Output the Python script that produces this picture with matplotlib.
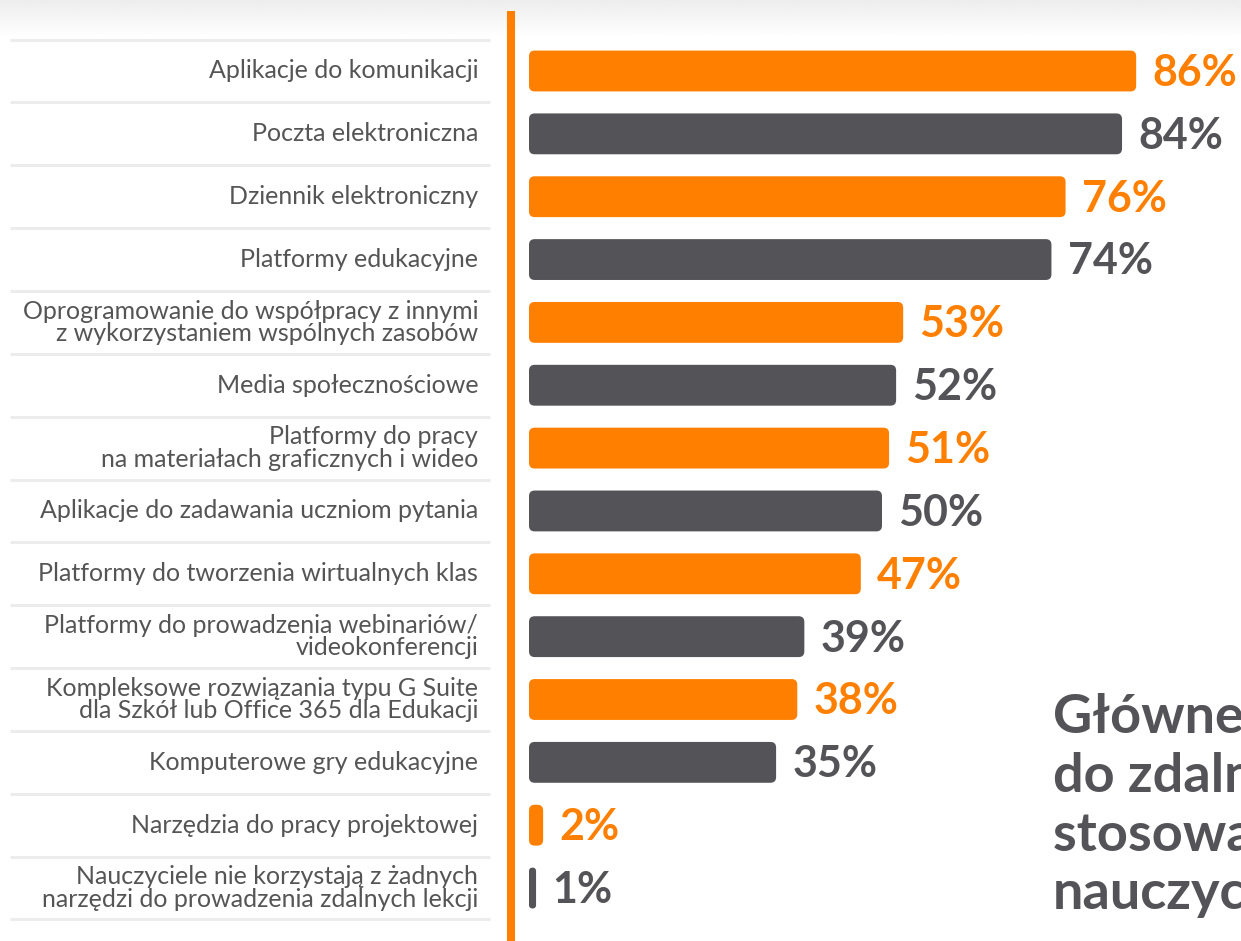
import numpy as np
import matplotlib
matplotlib.use("Agg")
import matplotlib.pyplot as plt
from matplotlib.patches import FancyBboxPatch

labels = [
    "Aplikacje do komunikacji",
    "Poczta elektroniczna",
    "Dziennik elektroniczny",
    "Platformy edukacyjne",
    "Oprogramowanie do współpracy z innymi\nz wykorzystaniem wspólnych zasobów",
    "Media społecznościowe",
    "Platformy do pracy\nna materiałach graficznych i wideo",
    "Aplikacje do zadawania uczniom pytania",
    "Platformy do tworzenia wirtualnych klas",
    "Platformy do prowadzenia webinariów/\nvideokonferencji",
    "Kompleksowe rozwiązania typu G Suite\ndla Szkół lub Office 365 dla Edukacji",
    "Komputerowe gry edukacyjne",
    "Narzędzia do pracy projektowej",
    "Nauczyciele nie korzystają z żadnych\nnarzędzi do prowadzenia zdalnych lekcji",
]
values = [86, 84, 76, 74, 53, 52, 51, 50, 47, 39, 38, 35, 2, 1]
title = "Główne narzędzia\ndo zdalnego nauczania\nstosowane przez\nnauczycieli"

ORANGE = "#ff8000"
GRAY = "#545458"
TEXT = "#555555"

W, H = 1241, 941
fig = plt.figure(figsize=(W / 100, H / 100), dpi=100)

# light shadow at the top edge
bg = fig.add_axes([0, 1 - 38 / H, 1, 38 / H], zorder=0)
grad = np.linspace(0.93, 1.0, 64).reshape(-1, 1)
bg.imshow(grad, aspect="auto", cmap="gray", vmin=0, vmax=1, extent=[0, 1, 0, 1])
bg.axis("off")

ax = fig.add_axes([0, 0, 1, 1], zorder=1)
ax.patch.set_alpha(0)
px_x = 7.06          # pixels per percent
px_y = 62.85         # pixels per row
x0, y0 = 529, 71     # pixel position of value 0 / first row centre
ax.set_xlim(-x0 / px_x, (W - x0) / px_x)
ax.set_ylim((H - y0) / px_y, -y0 / px_y)
ax.axis("off")

n = len(values)
bar_h = 0.65
for i, (lab, v) in enumerate(zip(labels, values)):
    col = ORANGE if i % 2 == 0 else GRAY
    r = min(0.8, v / 2)
    box = FancyBboxPatch((0, i - bar_h / 2), v, bar_h,
                         boxstyle=f"round,pad=0,rounding_size={r}",
                         mutation_aspect=px_x / px_y,
                         fc=col, ec="none", zorder=3)
    ax.add_patch(box)
    ax.text(v + 2.3, i + 0.03, f"{v}%", color=col, fontsize=31,
            fontweight="bold", family="Lato", va="center", ha="left")
    ax.text(-7.2, i, lab, color=TEXT, fontsize=18, family="Lato",
            va="center", ha="right", linespacing=0.97)

# separators
sx0, sx1 = (10 - x0) / px_x, (490 - x0) / px_x
for k in range(n + 1):
    ax.plot([sx0, sx1], [k - 0.5, k - 0.5], color="#ececec", lw=2.2,
            solid_capstyle="butt", zorder=1)

# orange vertical rule
xv = (511 - x0) / px_x
ax.plot([xv, xv], [(11 - y0) / px_y, (H - y0) / px_y + 1], color=ORANGE,
        lw=5.8, solid_capstyle="butt", zorder=4)

fig.text(1053 / W, 1 - 693 / H, title, color=GRAY, fontsize=39,
         fontweight="bold", family="Lato", ha="left", va="top",
         linespacing=1.24)

fig.savefig("out.png", dpi=100)
